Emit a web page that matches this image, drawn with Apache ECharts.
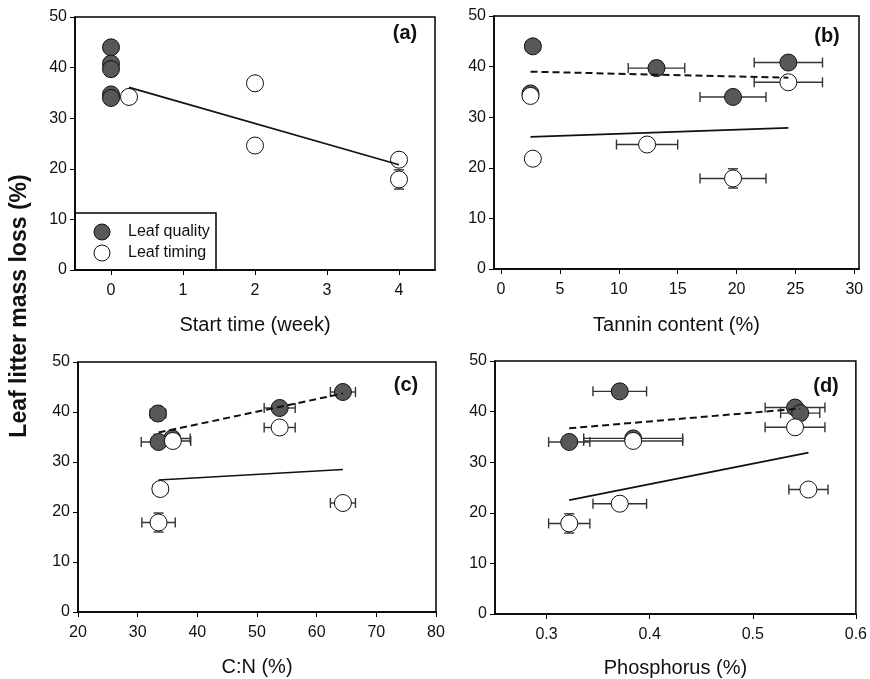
<!DOCTYPE html>
<html>
<head>
<meta charset="utf-8">
<script src="https://cdn.jsdelivr.net/npm/echarts@6/dist/echarts.min.js"></script>
<style>
  html, body { margin: 0; padding: 0; background: #fff; }
  #chart { width: 870px; height: 679px; }
</style>
</head>
<body>
<div id="chart"></div>
<script>
// ---------- DATA ----------
// Leaf quality treatment (filled circles)
const qualityLoss      = [44.0, 40.8, 39.7, 34.7, 34.0];
const qualityLossErr   = [0.8, 0.5, 1.4, 0.6, 0.5];
const qualityWeek      = [0, 0, 0, 0, 0];
const qualityTannin    = [2.7, 24.4, 13.2, 2.5, 19.7];
const qualityTanninErr = [0.6, 2.9, 2.4, 0.3, 2.8];
const qualityCN        = [64.4, 53.8, 33.4, 35.8, 33.5];
const qualityCNErr     = [2.1, 2.6, 1.3, 3.0, 2.9];
const qualityP         = [0.371, 0.541, 0.546, 0.384, 0.322];
const qualityPErr      = [0.026, 0.029, 0.019, 0.048, 0.020];

// Leaf timing treatment (open circles)
const timingLoss      = [34.2, 36.9, 24.6, 21.8, 17.9];
const timingLossErr   = [0.5, 0.5, 1.2, 0.8, 1.9];
const timingWeek      = [0.25, 2, 2, 4, 4];
const timingTannin    = [2.5, 24.4, 12.4, 2.7, 19.7];
const timingTanninErr = [0.3, 2.9, 2.6, 0.3, 2.8];
const timingCN        = [35.9, 53.8, 33.8, 64.4, 33.5];
const timingCNErr     = [3.0, 2.6, 1.2, 2.1, 2.8];
const timingP         = [0.384, 0.541, 0.554, 0.371, 0.322];
const timingPErr      = [0.048, 0.029, 0.019, 0.026, 0.020];

// Regression lines (end points)
const regATiming  = [[0.25, 36.1], [4, 20.8]];
const regBQuality = [[2.5, 39.0], [24.4, 37.8]];
const regBTiming  = [[2.5, 26.1], [24.4, 27.9]];
const regCQuality = [[33.5, 35.9], [64.4, 43.7]];
const regCTiming  = [[33.5, 26.4], [64.4, 28.5]];
const regDQuality = [[0.322, 36.7], [0.546, 40.6]];
const regDTiming  = [[0.322, 22.5], [0.554, 31.9]];

// Axis tick labels
const yTicks = [0, 10, 20, 30, 40, 50];
const weekTicks = [0, 1, 2, 3, 4];
const tanninTicks = [0, 5, 10, 15, 20, 25, 30];
const cnTicks = [20, 30, 40, 50, 60, 70, 80];
const pTicks = [0.3, 0.4, 0.5, 0.6];

const xTitles = ['Start time (week)', 'Tannin content (%)', 'C:N (%)', 'Phosphorus (%)'];
const panelLetters = ['(a)', '(b)', '(c)', '(d)'];
const yTitle = 'Leaf litter mass loss (%)';
const seriesNames = ['Leaf quality', 'Leaf timing'];

// ---------- LAYOUT ----------
const FONT = '"Liberation Sans", Arial, sans-serif';
const QCOLOR = '#585858';
const grids = [
  { left: 75,  top: 17,  width: 360, height: 253 },
  { left: 494, top: 16,  width: 365, height: 253 },
  { left: 78,  top: 362, width: 358, height: 250 },
  { left: 495, top: 361, width: 363, height: 253 }
];
const xRanges = [[-0.5, 4.5], [-0.6, 30.4], [20, 80], [0.25, 0.6]];
const xTickSets = [weekTicks, tanninTicks, cnTicks, pTicks];
const nameGaps = [45, 46, 45, 44];
const letterPos = [[405, 33], [827, 36], [406, 385], [826, 386]];

function zip(xs, ys, exs, eys) {
  return xs.map((x, i) => [x, ys[i], exs ? exs[i] : 0, eys ? eys[i] : 0]);
}

const panelData = [
  { q: zip(qualityWeek, qualityLoss, null, qualityLossErr),
    t: zip(timingWeek, timingLoss, null, timingLossErr),
    lines: [[regATiming, 'solid']] },
  { q: zip(qualityTannin, qualityLoss, qualityTanninErr, qualityLossErr),
    t: zip(timingTannin, timingLoss, timingTanninErr, timingLossErr),
    lines: [[regBQuality, 'dashed'], [regBTiming, 'solid']] },
  { q: zip(qualityCN, qualityLoss, qualityCNErr, qualityLossErr),
    t: zip(timingCN, timingLoss, timingCNErr, timingLossErr),
    lines: [[regCQuality, 'dashed'], [regCTiming, 'solid']] },
  { q: zip(qualityP, qualityLoss, qualityPErr, qualityLossErr),
    t: zip(timingP, timingLoss, timingPErr, timingLossErr),
    lines: [[regDQuality, 'dashed'], [regDTiming, 'solid']] }
];

function errRender(params, api) {
  const x = api.value(0), y = api.value(1), ex = api.value(2), ey = api.value(3);
  const cap = 5;
  const style = { stroke: '#333', lineWidth: 1.4, fill: null };
  const ch = [];
  if (ex > 0) {
    const a = api.coord([x - ex, y]), b = api.coord([x + ex, y]);
    ch.push({ type: 'line', shape: { x1: a[0], y1: a[1], x2: b[0], y2: b[1] }, style });
    ch.push({ type: 'line', shape: { x1: a[0], y1: a[1] - cap, x2: a[0], y2: a[1] + cap }, style });
    ch.push({ type: 'line', shape: { x1: b[0], y1: b[1] - cap, x2: b[0], y2: b[1] + cap }, style });
  }
  if (ey > 0) {
    const a = api.coord([x, y - ey]), b = api.coord([x, y + ey]);
    ch.push({ type: 'line', shape: { x1: a[0], y1: a[1], x2: b[0], y2: b[1] }, style });
    ch.push({ type: 'line', shape: { x1: a[0] - cap, y1: a[1], x2: a[0] + cap, y2: a[1] }, style });
    ch.push({ type: 'line', shape: { x1: b[0] - cap, y1: b[1], x2: b[0] + cap, y2: b[1] }, style });
  }
  return { type: 'group', children: ch };
}

const gridOpts = [], xAxes = [], yAxes = [], series = [], graphics = [];
grids.forEach((g, i) => {
  gridOpts.push(Object.assign({ show: true, borderColor: '#000', borderWidth: 1.5, backgroundColor: 'transparent' }, g));
  xAxes.push({
    type: 'value', gridIndex: i, min: xRanges[i][0], max: xRanges[i][1],
    name: xTitles[i], nameLocation: 'middle', nameGap: nameGaps[i],
    nameTextStyle: { fontSize: 20, color: '#111', fontFamily: FONT },
    axisLine: { show: true, onZero: false, lineStyle: { color: '#000', width: 1.5 } },
    axisTick: { show: true, inside: false, length: 5, customValues: xTickSets[i], lineStyle: { color: '#000', width: 1 } },
    axisLabel: { customValues: xTickSets[i], margin: 13, fontSize: 16, color: '#111', fontFamily: FONT },
    splitLine: { show: false }
  });
  yAxes.push({
    type: 'value', gridIndex: i, min: 0, max: 50, interval: 10,
    axisLine: { show: true, onZero: false, lineStyle: { color: '#000', width: 1.5 } },
    axisTick: { show: true, inside: false, length: 5, lineStyle: { color: '#000', width: 1 } },
    axisLabel: { margin: 8, fontSize: 16, color: '#111', fontFamily: FONT },
    splitLine: { show: false }
  });
  const pd = panelData[i];
  series.push({
    type: 'custom', xAxisIndex: i, yAxisIndex: i, renderItem: errRender,
    data: pd.q.concat(pd.t), z: 1, silent: true, clip: false
  });
  series.push({
    name: seriesNames[0], type: 'scatter', xAxisIndex: i, yAxisIndex: i,
    data: pd.q.map(d => [d[0], d[1]]), symbol: 'circle', symbolSize: 17, z: 2,
    itemStyle: { color: QCOLOR, borderColor: '#111', borderWidth: 1, opacity: 1 }
  });
  series.push({
    name: seriesNames[1], type: 'scatter', xAxisIndex: i, yAxisIndex: i,
    data: pd.t.map(d => [d[0], d[1]]), symbol: 'circle', symbolSize: 17, z: 3,
    itemStyle: { color: '#ffffff', borderColor: '#111', borderWidth: 1, opacity: 1 }
  });
  pd.lines.forEach(([pts, kind]) => {
    series.push({
      type: 'line', xAxisIndex: i, yAxisIndex: i, data: pts, symbol: 'none', z: 4,
      silent: true,
      lineStyle: { color: '#111', width: kind === 'dashed' ? 2 : 1.7, type: kind === 'dashed' ? [7, 4] : 'solid' }
    });
  });
  graphics.push({
    type: 'text', x: letterPos[i][0], y: letterPos[i][1],
    style: { text: panelLetters[i], font: 'bold 20px ' + FONT, fill: '#111', textAlign: 'center', textVerticalAlign: 'middle' }
  });
});

graphics.push({
  type: 'text', x: 20, y: 306, rotation: Math.PI / 2,
  style: { text: yTitle, font: 'bold 23px ' + FONT, fill: '#111', textAlign: 'center', textVerticalAlign: 'middle' }
});

// Legend box for panel (a)
graphics.push({
  type: 'group', z: 10, children: [
    { type: 'rect', shape: { x: 75, y: 213, width: 141, height: 57 }, style: { fill: '#fff', stroke: '#000', lineWidth: 1.5 } },
    { type: 'circle', shape: { cx: 102, cy: 232, r: 8 }, style: { fill: QCOLOR, stroke: '#111', lineWidth: 1 } },
    { type: 'circle', shape: { cx: 102, cy: 253, r: 8 }, style: { fill: '#fff', stroke: '#111', lineWidth: 1 } },
    { type: 'text', x: 128, y: 232, style: { text: seriesNames[0], font: '16px ' + FONT, fill: '#111', textAlign: 'left', textVerticalAlign: 'middle' } },
    { type: 'text', x: 128, y: 253, style: { text: seriesNames[1], font: '16px ' + FONT, fill: '#111', textAlign: 'left', textVerticalAlign: 'middle' } }
  ]
});

const chart = echarts.init(document.getElementById('chart'), null, { renderer: 'canvas' });
chart.setOption({
  animation: false,
  backgroundColor: '#fff',
  grid: gridOpts,
  xAxis: xAxes,
  yAxis: yAxes,
  series: series,
  graphic: graphics
});
</script>
</body>
</html>
